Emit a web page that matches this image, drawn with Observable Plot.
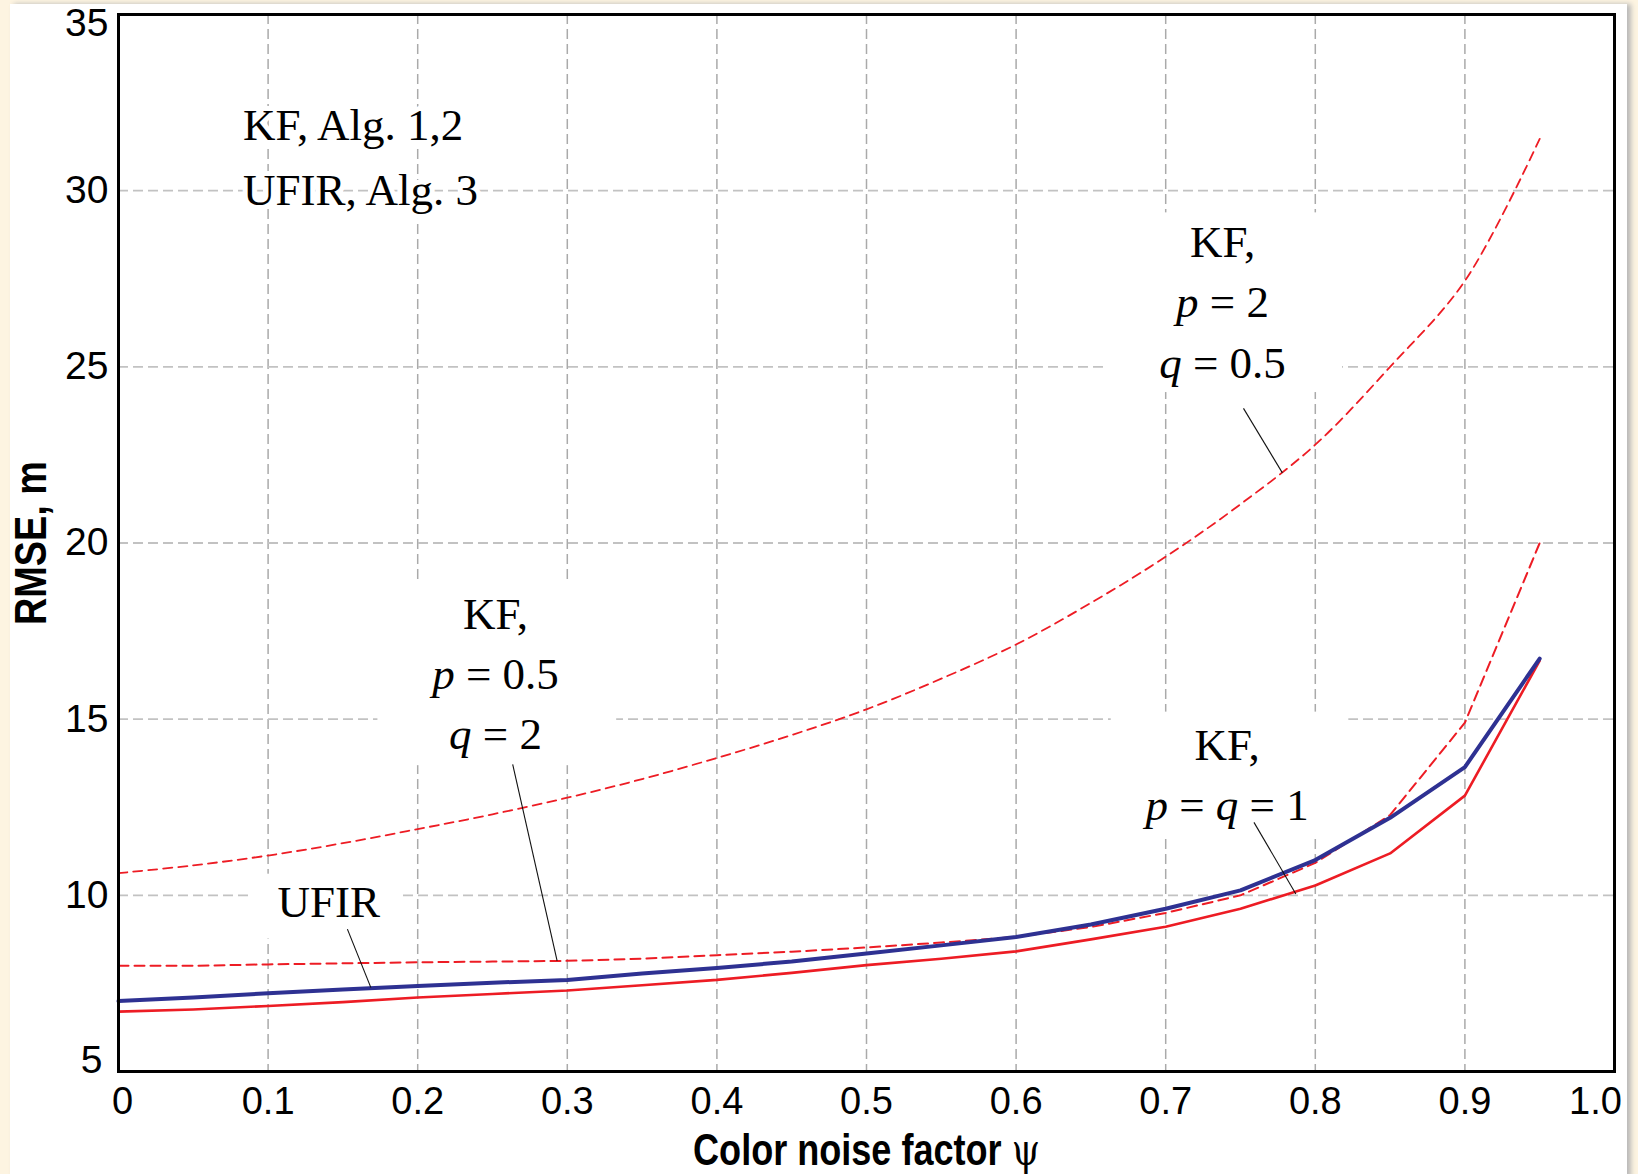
<!DOCTYPE html>
<html>
<head>
<meta charset="utf-8">
<script src="https://cdn.jsdelivr.net/npm/d3@7"></script>
<script src="https://cdn.jsdelivr.net/npm/@observablehq/plot@0.6"></script>
<style>
  html, body { margin: 0; padding: 0; background: #FDF4E1; width: 1638px; height: 1174px; overflow: hidden; }
  #panel { position: absolute; left: 10px; top: 4px; width: 1617px; height: 1175px; background: #ffffff; box-shadow: 4px 0 5px #b9b9b9; }
  #chart { position: absolute; left: 0; top: 0; }
</style>
</head>
<body>
<div id="panel"></div>
<div id="chart"></div>
<script>
// ---- data ----
const psi        = [0, 0.05, 0.1, 0.15, 0.2, 0.25, 0.3, 0.35, 0.4, 0.45, 0.5, 0.55, 0.6, 0.65, 0.7, 0.75, 0.8, 0.85, 0.9, 0.95];
const ufirRmse   = [7.0, 7.1, 7.22, 7.33, 7.43, 7.52, 7.6, 7.78, 7.94, 8.12, 8.35, 8.58, 8.82, 9.17, 9.62, 10.14, 11.0, 12.2, 13.64, 16.72];
const kfEqual    = [6.7, 6.76, 6.86, 6.97, 7.1, 7.2, 7.3, 7.45, 7.6, 7.8, 8.02, 8.2, 8.41, 8.75, 9.11, 9.62, 10.28, 11.19, 12.83, 16.66];
const kfP05Q2    = [8.0, 8.0, 8.04, 8.07, 8.1, 8.12, 8.14, 8.2, 8.3, 8.4, 8.52, 8.66, 8.82, 9.1, 9.5, 10.0, 10.92, 12.28, 14.9, 20.0];
const kfP2Q05    = [10.63, 10.85, 11.13, 11.48, 11.88, 12.3, 12.77, 13.3, 13.9, 14.55, 15.28, 16.15, 17.12, 18.3, 19.61, 21.1, 22.79, 25.0, 27.44, 31.47];

const xTicks      = [0, 0.1, 0.2, 0.3, 0.4, 0.5, 0.6, 0.7, 0.8, 0.9, 1.0];
const xTickLabels = ["0", "0.1", "0.2", "0.3", "0.4", "0.5", "0.6", "0.7", "0.8", "0.9", "1.0"];
const yTicks      = [5, 10, 15, 20, 25, 30, 35];

const xLabel = "Color noise factor ψ";
const yLabel = "RMSE, m";

// annotation texts and anchor points (data coordinates)
const blockLabels = [
  {x: 0.738, y: 26.95, text: "KF,\np = 2\nq = 0.5"},
  {x: 0.252, y: 16.4, text: "KF,\np = 0.5\nq = 2"},
  {x: 0.741, y: 13.54, text: "KF,\np = q = 1"},
  {x: 0.1406, y: 9.94, text: "UFIR"}
];
const cornerLabel = [{x: 0.0832, y: 31.1, text: "KF, Alg. 1,2\nUFIR, Alg. 3"}];
// white label backgrounds that interrupt the grid
const labelBoxes = [
  {x1: 0.6594, x2: 0.8182, y1: 24.27, y2: 29.37},
  {x1: 0.1734, x2: 0.3330, y1: 13.68, y2: 18.84},
  {x1: 0.0880, x2: 0.1902, y1: 8.76, y2: 10.60},
  {x1: 0.6636, x2: 0.8224, y1: 11.61, y2: 15.20}
];
// leader lines from labels to curves
const leaders = [
  {x1: 0.752, y1: 23.82, x2: 0.778, y2: 21.99},
  {x1: 0.2635, y1: 13.72, x2: 0.2932, y2: 8.14},
  {x1: 0.153, y1: 9.04, x2: 0.1687, y2: 7.38},
  {x1: 0.759, y1: 12.07, x2: 0.787, y2: 10.04}
];

const mk = (ys) => psi.map((x, i) => ({x, y: ys[i]}));
const RED = "#ED1C24", BLUE = "#2E3192";
const fmtX = d => xTickLabels[xTicks.indexOf(d)];
const SERIF = "'Liberation Serif', 'Times New Roman', serif";

const chart = Plot.plot({
  width: 1638, height: 1174,
  marginLeft: 118, marginRight: 24, marginTop: 14, marginBottom: 103,
  x: {domain: [0, 1]},
  y: {domain: [5, 35]},
  style: {background: "transparent", fontFamily: "'Liberation Sans', Arial, sans-serif", color: "black"},
  marks: [
    Plot.gridX(xTicks.slice(1, -1), {stroke: "#aaaaaa", strokeOpacity: 1, strokeWidth: 1.5, strokeDasharray: "10,5"}),
    Plot.gridY(yTicks.slice(1, -1), {stroke: "#c2c2c2", strokeOpacity: 1, strokeWidth: 1.8, strokeDasharray: "10,5"}),
    Plot.rect(labelBoxes, {x1: "x1", x2: "x2", y1: "y1", y2: "y2", fill: "white"}),
    Plot.line(mk(kfP2Q05), {x: "x", y: "y", stroke: RED, strokeWidth: 1.8, strokeDasharray: "9,6", curve: "catmull-rom"}),
    Plot.line(mk(kfP05Q2), {x: "x", y: "y", stroke: RED, strokeWidth: 2, strokeDasharray: "10,6"}),
    Plot.line(mk(kfEqual), {x: "x", y: "y", stroke: RED, strokeWidth: 2.6}),
    Plot.line(mk(ufirRmse), {x: "x", y: "y", stroke: BLUE, strokeWidth: 4}),
    Plot.link(leaders, {x1: "x1", y1: "y1", x2: "x2", y2: "y2", stroke: "#111", strokeWidth: 1.1}),
    Plot.text(blockLabels, {x: "x", y: "y", text: "text", lineAnchor: "middle", lineHeight: 1.34,
      fontFamily: SERIF, fontSize: 45, fill: "black"}),
    Plot.text(cornerLabel, {x: "x", y: "y", text: "text", textAnchor: "start", lineAnchor: "middle", lineHeight: 1.44,
      fontFamily: SERIF, fontSize: 45, fill: "black",
      stroke: "white", strokeWidth: 10, paintOrder: "stroke"}),
    Plot.frame({stroke: "black", strokeWidth: 3}),
    // tick labels
    Plot.axisX({ticks: xTicks.slice(1, -1), tickSize: 0, tickPadding: 16, fontSize: 38, tickFormat: fmtX, label: null}),
    Plot.axisX({ticks: [xTicks[0]], tickSize: 0, tickPadding: 16, fontSize: 38, tickFormat: fmtX, label: null, dx: 4}),
    Plot.axisX({ticks: [xTicks[xTicks.length - 1]], tickSize: 0, tickPadding: 16, fontSize: 38, tickFormat: fmtX, label: null, dx: -19}),
    Plot.axisY({ticks: yTicks.slice(1, -1), tickSize: 0, tickPadding: 10, fontSize: 39, label: null}),
    Plot.axisY({ticks: [yTicks[yTicks.length - 1]], tickSize: 0, tickPadding: 10, fontSize: 39, label: null, dy: 9}),
    Plot.axisY({ticks: [yTicks[0]], tickSize: 0, tickPadding: 10, fontSize: 39, label: null, dy: -11, dx: -6}),
    // axis titles
    Plot.axisX({ticks: [], tickSize: 0, label: xLabel, labelAnchor: "center", labelOffset: 93, labelArrow: "none",
      fontSize: 44, fontWeight: "bold"}),
    Plot.axisY({ticks: [], tickSize: 0, label: yLabel, labelAnchor: "center", labelOffset: 104, labelArrow: "none",
      fontSize: 44, fontWeight: "bold"})
  ]
});

// typographic touches: condensed bold axis titles, italic p / q, upright psi
chart.querySelectorAll("text").forEach(t => {
  const s = t.textContent;
  if (s === yLabel) {
    t.setAttribute("transform", (t.getAttribute("transform") || "") + " scale(0.86,1)");
  }
  if (s.startsWith("Color noise factor")) {
    t.setAttribute("transform", (t.getAttribute("transform") || "") + " scale(0.82,1)");
    t.textContent = "";
    t.appendChild(document.createTextNode("Color noise factor "));
    const ts = document.createElementNS("http://www.w3.org/2000/svg", "tspan");
    ts.setAttribute("font-weight", "normal");
    ts.setAttribute("font-family", "'DejaVu Serif', serif");
    ts.textContent = "ψ";
    t.appendChild(ts);
  }
});
chart.querySelectorAll("tspan").forEach(ts => {
  const s = ts.textContent;
  if (/^[pq] =/.test(s)) {
    ts.textContent = "";
    for (const ch of s) {
      if (ch === "p" || ch === "q") {
        const it = document.createElementNS("http://www.w3.org/2000/svg", "tspan");
        it.setAttribute("font-style", "italic");
        it.textContent = ch;
        ts.appendChild(it);
      } else {
        ts.appendChild(document.createTextNode(ch));
      }
    }
  }
});

document.getElementById("chart").appendChild(chart);
</script>
</body>
</html>
